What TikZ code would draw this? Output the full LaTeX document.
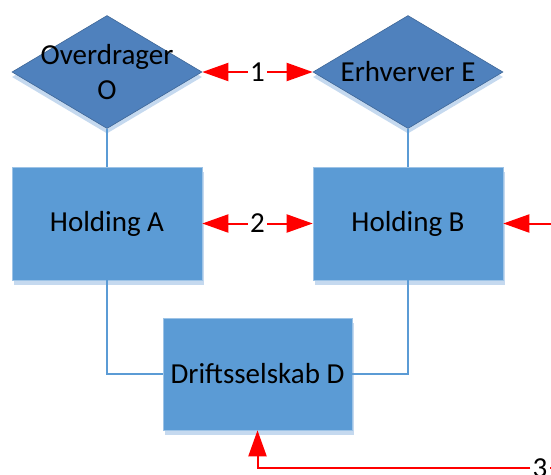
\documentclass[tikz,border=0pt]{standalone}
\usepackage{fontspec}
\setmainfont{Carlito}
\usetikzlibrary{shapes.geometric,shadows,arrows.meta}
\definecolor{rombeblaa}{HTML}{4F81BD}
\definecolor{kasseblaa}{HTML}{5B9BD5}
\definecolor{skygge}{HTML}{C5D9EF}
\tikzset{
	tekst/.style={font=\fontsize{29}{35}\selectfont, text=black},
	rombe/.style={diamond, fill=rombeblaa, draw=rombeblaa!80!black, line width=.6pt, minimum width=190pt, minimum height=113pt, inner sep=0pt, drop shadow={shadow xshift=0pt, shadow yshift=-5pt, fill=skygge, opacity=1}},
	kasse/.style={rectangle, fill=kasseblaa, draw=kasseblaa!60!white, line width=.6pt, minimum width=190pt, minimum height=113pt, inner sep=0pt, tekst, drop shadow={shadow xshift=2pt, shadow yshift=-5pt, fill=skygge, opacity=1}},
	forb/.style={draw=kasseblaa, line width=2.2pt},
	pil/.style={draw=red, line width=2pt, -{Triangle[length=26pt,width=18pt]}},
	dobbeltpil/.style={draw=red, line width=2pt, {Triangle[length=26pt,width=18pt]}-{Triangle[length=26pt,width=18pt]}},
	tal/.style={fill=white, inner sep=2pt, tekst}
}
\begin{document}
\begin{tikzpicture}[x=1pt, y=-1pt]
	\useasboundingbox (0,0) rectangle (551,474) ;
	% ejere
		\node (O)[rombe, label={[tekst, align=center]center:Overdrager\\O}] at (107,72) {} ;
		\node (E)[rombe, label={[tekst]center:Erhverver E}] at (408,72) {} ;
	% selskaber
		\node (A)[kasse] at (107,223.5) {Holding A} ;
		\node (B)[kasse] at (408,223.5) {Holding B} ;
		\node (D)[kasse, minimum width=189pt, minimum height=112pt] at (257.5,374) {Driftsselskab D} ;
	% ejerskab
	\draw[forb] (O) -- (A) ;
	\draw[forb] (E) -- (B) ;
	\draw[forb] (A) |- (D) ;
	\draw[forb] (B) |- (D) ;
	% overdragelser
		\coordinate (ind4) at (580,223.5) ;
		\coordinate (ind3) at (580,468) ;
		\node (n3)[tal] at (540,468) {3} ;
	\draw[dobbeltpil] (O) -- node[tal] (n1) {1} (E) ;
	\draw[dobbeltpil] (A) -- node[tal] (n2) {2} (B) ;
	\draw[pil] (ind4) -- (B) ;
	\draw[draw=red, line width=2pt] (ind3) -- (n3) ;
	\draw[pil] (n3) -| (D) ;
\end{tikzpicture}
\end{document}
